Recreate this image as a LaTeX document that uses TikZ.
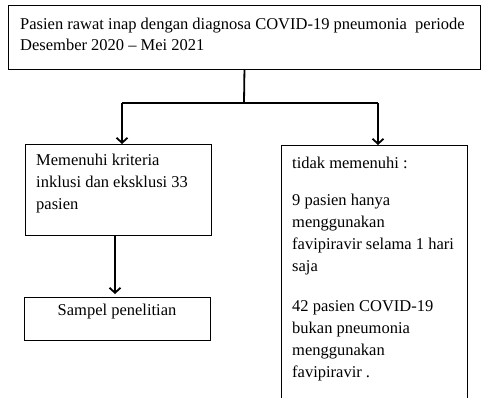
\documentclass[tikz,border=0pt]{standalone}
\usepackage{fontspec}
\setmainfont{Liberation Serif}
\usetikzlibrary{arrows.meta}
\tikzset{box/.style={draw,line width=0.9pt,anchor=north west,inner sep=0pt},
 txt/.style={anchor=north west,inner sep=0pt,align=left,font=\fontsize{16.5}{22}\selectfont},
 link/.style={line width=1.8pt},
 flow/.style={line width=1.8pt,-{Straight Barb[length=5pt,width=11pt,line width=1.8pt]}},
 }

\begin{document}
\begin{tikzpicture}[x=1pt,y=-1pt]
        \useasboundingbox (0,0) rectangle (481,398);
        \clip (0,0) rectangle (481,398);
        \node[box,minimum width=472pt,minimum height=64pt] (top) at (8,5) {};
        \node[box,minimum width=186pt,minimum height=91pt] (memenuhi) at (25,144) {};
        \node[box,minimum width=186pt,minimum height=43pt] (sampel) at (24,297) {};
        \node[box,minimum width=186pt,minimum height=280pt] (tidak) at (281,145) {};
        \node[txt] (toptext) at (20,17.7) {Pasien rawat inap dengan diagnosa COVID-19 pneumonia\ \ periode\\[-1pt]Desember 2020 – Mei 2021};
        \node[txt] (memenuhitext) at (36,153.7) {Memenuhi kriteria\\inklusi dan eksklusi 33\\pasien};
        \node[txt] (tidaktext) at (292,156.7) {tidak memenuhi :\\[15pt]9 pasien hanya\\menggunakan\\favipiravir selama 1 hari\\saja\\[18pt]42 pasien COVID-19\\bukan pneumonia\\menggunakan\\favipiravir .};
        \node[txt,anchor=base] (sampeltext) at (117,315) {Sampel penelitian};
        \coordinate (mid) at (244,103);
        \coordinate (jl) at (122,103);
        \coordinate (jr) at (378,103);
        \coordinate (down) at (115,235);
        \draw[link] (top.south) -- (mid);
        \draw[link] (jl) -- (jr);
        \draw[flow] (jl) -- (jl |- memenuhi.north);
        \draw[flow] (jr) -- (jr |- tidak.north);
        \draw[flow,shorten >=3pt] (down) -- (down |- sampel.north);
    \end{tikzpicture}
\end{document}
